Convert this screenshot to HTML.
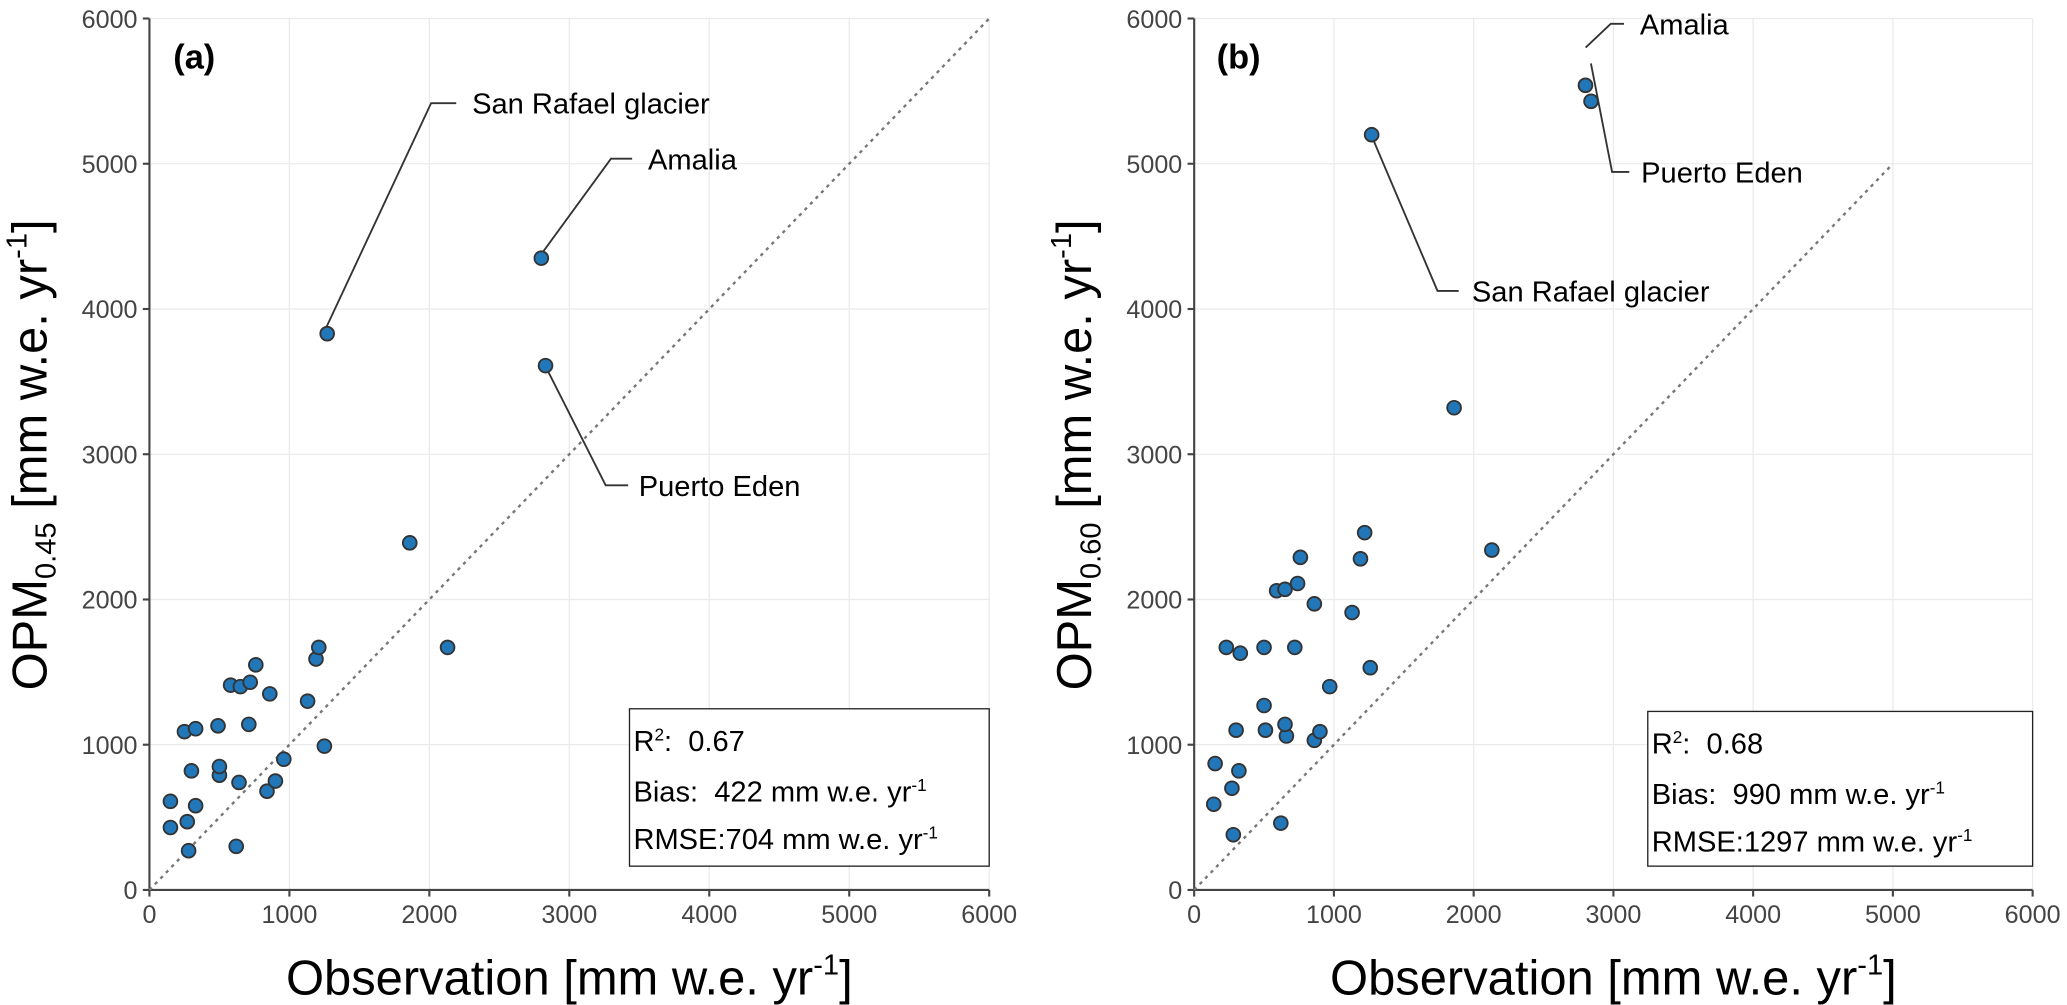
<!DOCTYPE html>
<html><head><meta charset="utf-8"><style>
html,body{margin:0;padding:0;background:#fff;}
svg{display:block;font-family:"Liberation Sans",sans-serif;white-space:pre;}
</style></head><body>
<svg id="fig" width="2067" height="1005" viewBox="0 0 1563 760" preserveAspectRatio="none" xmlns="http://www.w3.org/2000/svg"></svg>
<script>
const ticks = [0,1000,2000,3000,4000,5000,6000];
const obsA = [150,150,250,270,280,300,330,330,490,500,500,580,620,640,650,710,720,760,840,860,900,960,1130,1190,1210,1250,1860,2130,1270,2800,2830];
const opmA = [610,430,1090,470,270,820,580,1110,1130,790,850,1410,300,740,1400,1140,1430,1550,680,1350,750,900,1300,1590,1670,990,2390,1670,3830,4350,3610];
const obsB = [150,140,230,270,280,300,320,330,500,500,510,590,620,650,660,650,720,740,760,860,860,900,970,1130,1190,1220,1260,1860,2130,1270,2800,2840];
const opmB = [870,590,1670,700,380,1100,820,1630,1670,1270,1100,2060,460,2070,1060,1140,1670,2110,2290,1030,1970,1090,1400,1910,2280,2460,1530,3320,2340,5200,5540,5430];
const statsA = ["0.67","422","704"];
const statsB = ["0.68","990","1297"];

const NS="http://www.w3.org/2000/svg";
const svg=document.getElementById('fig');
function el(tag,attrs,parent,text){const e=document.createElementNS(NS,tag);for(const k in attrs)e.setAttribute(k,attrs[k]);if(text!==undefined)e.textContent=text;(parent||svg).appendChild(e);return e;}

function panel(p){
  const g=el('g',{});
  
  
  const x0=p.x0, x1=p.x1, y0=673, y1=14;
  const sx=v=>x0+(x1-x0)*v/6000, sy=v=>y0-(y0-y1)*v/6000;
  ticks.forEach(t=>{
    if(t>0){
      const gx=el('line',{x1:sx(t),x2:sx(t),y1:y1,y2:y0,stroke:'#ebebeb','stroke-width':1},g);
      
      const gy=el('line',{x1:x0,x2:x1,y1:sy(t),y2:sy(t),stroke:'#ebebeb','stroke-width':1},g);
      
    }
    el('line',{x1:sx(t),x2:sx(t),y1:y0,y2:y0+5,stroke:'#444','stroke-width':1.6},g);
    el('line',{x1:x0-5,x2:x0,y1:sy(t),y2:sy(t),stroke:'#444','stroke-width':1.6},g);
    const xl=el('text',{x:sx(t),y:y0+25,'text-anchor':'middle','font-size':19,fill:'#444'},g,String(t));
    
    const yl=el('text',{x:x0-9,y:sy(t)+7,'text-anchor':'end','font-size':19,fill:'#444'},g,String(t));
    
  });
  const ax=el('path',{d:`M${x0} ${y1}V${y0}H${x1}`,fill:'none',stroke:'#444','stroke-width':1.6},g);
  
  const d=el('line',{x1:sx(0),y1:sy(0),x2:sx(p.diag),y2:sy(p.diag),stroke:'#777','stroke-width':1.8,'stroke-dasharray':'2.5,3.5'},g);
  
  p.ann.forEach(a=>{
    const l=el('polyline',{points:a.pts.map(q=>q.join(',')).join(' '),fill:'none',stroke:'#333','stroke-width':1.4},g);
    
    const t=el('text',{x:a.tx,y:a.ty,'font-size':22,fill:'#000'},g,a.label);
    
  });
  p.xs.forEach((v,i)=>{
    const c=el('circle',{cx:sx(v),cy:sy(p.ys[i]),r:5.2,fill:'#2277b8',stroke:'#333','stroke-width':1.4},g);
    
  });
  const bx=p.box;
  const b=el('rect',{x:bx[0],y:bx[1],width:bx[2],height:bx[3],fill:'#fff',stroke:'#222','stroke-width':1},g);
  
  const tx=bx[0]+3;
  const t1=el('text',{x:tx,y:bx[1]+32,'font-size':22},g);
  
  t1.innerHTML=`R<tspan font-size="13" dy="-8">2</tspan><tspan dy="8">:&#160; ${p.st[0]}</tspan>`;
  const t2=el('text',{x:tx,y:bx[1]+70,'font-size':22},g);
  
  t2.innerHTML=`Bias:&#160; ${p.st[1]} mm w.e. yr<tspan font-size="13" dy="-8">-1</tspan>`;
  const t3=el('text',{x:tx,y:bx[1]+106,'font-size':22},g);
  
  t3.innerHTML=`RMSE:${p.st[2]} mm w.e. yr<tspan font-size="13" dy="-8">-1</tspan>`;
  const pl=el('text',{x:p.lx,y:52,'font-size':26,'font-weight':'bold'},g,p.letter);
  
  const xt=el('text',{x:(x0+x1)/2,y:752,'text-anchor':'middle','font-size':37},g);
  
  xt.innerHTML='Observation [mm w.e. yr<tspan font-size="22" dy="-15">-1</tspan><tspan dy="15">]</tspan>';
  const yt=el('text',{x:0,y:0,'text-anchor':'middle','font-size':37,transform:`translate(${p.ytx},344) rotate(-90)`},g);
  
  yt.innerHTML=`OPM<tspan font-size="22" dy="7">${p.sub}</tspan><tspan dy="-7"> [mm w.e. yr</tspan><tspan font-size="22" dy="-15">-1</tspan><tspan dy="15">]</tspan>`;
}
panel({name:'panel-a',x0:113,x1:748,diag:6000,xs:obsA,ys:opmA,st:statsA,letter:'(a)',lx:131,sub:'0.45',ytx:35,
  box:[476,536,272,119],
  ann:[{pts:[[247,247],[326,78],[345,78]],tx:357,ty:86,label:'San Rafael glacier'},
       {pts:[[408,194],[462,120],[478,120]],tx:490,ty:128,label:'Amalia'},
       {pts:[[412,276],[458,367],[475,367]],tx:483,ty:375,label:'Puerto Eden'}]});
panel({name:'panel-b',x0:903,x1:1537,diag:5000,xs:obsB,ys:opmB,st:statsB,letter:'(b)',lx:920,sub:'0.60',ytx:825,
  box:[1246,538,291,117],
  ann:[{pts:[[1199,36],[1218,18],[1228,18]],tx:1240,ty:26,label:'Amalia'},
       {pts:[[1203,48],[1219,130],[1232,130]],tx:1241,ty:138,label:'Puerto Eden'},
       {pts:[[1036,100],[1087,220],[1103,220]],tx:1113,ty:228,label:'San Rafael glacier'}]});
</script>
</body></html>
